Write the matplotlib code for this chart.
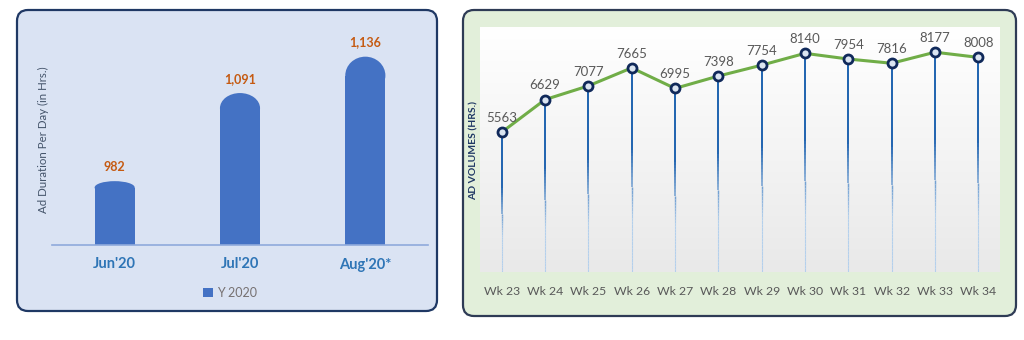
import numpy as np
import matplotlib
matplotlib.use("Agg")
import matplotlib.pyplot as plt
from matplotlib.patches import FancyBboxPatch, Ellipse
from matplotlib.collections import LineCollection
from matplotlib.colors import LinearSegmentedColormap, to_rgb

plt.rcParams['font.family'] = ['Lato', 'DejaVu Sans']

# ---- data ----
months = ["Jun'20", "Jul'20", "Aug'20*"]
month_values = [982, 1091, 1136]
month_labels = ["982", "1,091", "1,136"]
series_name = "Y 2020"

weeks = ["Wk 23", "Wk 24", "Wk 25", "Wk 26", "Wk 27", "Wk 28",
         "Wk 29", "Wk 30", "Wk 31", "Wk 32", "Wk 33", "Wk 34"]
week_values = [5563, 6629, 7077, 7665, 6995, 7398, 7754, 8140, 7954, 7816, 8177, 8008]

W, H = 1024, 340
fig = plt.figure(figsize=(W / 100, H / 100), dpi=100)
fig.patch.set_facecolor("white")


def fx(px):
    return px / W


def fy(py):
    return 1 - py / H


def add_panel(x0, y0, x1, y1, face, edge):
    p = FancyBboxPatch((fx(x0), fy(y1)), fx(x1 - x0), (y1 - y0) / H,
                       boxstyle="round,pad=0,rounding_size=%f" % (11 / W),
                       transform=fig.transFigure, facecolor=face, edgecolor=edge,
                       linewidth=1.6, zorder=-5, mutation_aspect=W / H)
    fig.patches.append(p)


add_panel(17, 10, 437, 311, "#dae3f3", "#1f3864")
add_panel(463, 10, 1016, 316, "#e2efda", "#2e3b55")

# ---- left chart ----
axL = fig.add_axes([fx(52), fy(245), fx(428 - 52), (245 - 30) / H])
axL.set_facecolor("none")
base = 903
bar_color = "#4472c4"
xL = np.arange(len(months))
bw = 0.32
vals = np.array(month_values, dtype=float)
caps = 0.1 * (vals - base)
bars = axL.bar(xL, vals - caps - base, bottom=base, width=bw, color=bar_color,
               label=series_name, zorder=2)
for xi, v, c in zip(xL, vals, caps):
    axL.add_patch(Ellipse((xi, v - c), bw, 2 * c, facecolor=bar_color,
                          edgecolor="none", zorder=2))
for xi, v, lab in zip(xL, vals, month_labels):
    axL.annotate(lab, (xi, v), xytext=(0, 6), textcoords="offset points",
                 ha="center", va="bottom", color="#c55a11", fontsize=9,
                 fontweight="bold")
axL.set_xlim(-0.5, 2.5)
axL.set_ylim(base, 1169)
axL.set_xticks(xL)
axL.set_xticklabels(months, fontsize=10.5, fontweight="bold", color="#2e75b6")
axL.tick_params(axis="x", length=0, pad=9)
axL.set_yticks([])
for s in ["top", "right", "left"]:
    axL.spines[s].set_visible(False)
axL.spines["bottom"].set_color("#8faadc")
axL.spines["bottom"].set_linewidth(1.2)
fig.text(fx(43), fy(140), "Ad Duration Per Day (in Hrs.)", rotation=90,
         ha="center", va="center", fontsize=8.3, color="#44546a")
fig.legend(handles=[bars], labels=[series_name], loc="center",
           bbox_to_anchor=(fx(230), fy(293)), frameon=False, fontsize=9,
           handlelength=0.75, handleheight=0.75, handletextpad=0.3,
           labelcolor="#767171")

# ---- right chart ----
axR = fig.add_axes([fx(480), fy(272), fx(1000 - 480), (272 - 27) / H])
ymin, ymax = 1000, 9000
axR.set_xlim(-0.5, len(weeks) - 0.5)
axR.set_ylim(ymin, ymax)
grad = np.linspace(0, 1, 256)[:, None]
cmap_bg = LinearSegmentedColormap.from_list("bg", ["#e9e9e9", "#ffffff"])
axR.imshow(grad, extent=[-0.5, len(weeks) - 0.5, ymin, ymax], origin="lower",
           aspect="auto", cmap=cmap_bg, zorder=0)

xR = np.arange(len(weeks))
top_c = np.array(to_rgb("#1f63b0"))
bot_c = np.array(to_rgb("#b4d0ec"))
segs, cols, lws = [], [], []
n = 60
for xi, v in zip(xR, week_values):
    ys = np.linspace(ymin, v, n + 1)
    for k in range(n):
        t = k / n  # 0 bottom -> 1 top
        w = np.clip((t - 0.25) / 0.35, 0, 1)
        segs.append([(xi, ys[k]), (xi, ys[k + 1])])
        cols.append(tuple(bot_c * (1 - w) + top_c * w))
        lws.append(0.8 + 0.6 * w)
axR.add_collection(LineCollection(segs, colors=cols, linewidths=lws, zorder=2))

axR.plot(xR, week_values, color="#70ad47", lw=2.2, zorder=3,
         marker="o", markersize=6.5, markerfacecolor="#dbe5f1",
         markeredgecolor="#10295a", markeredgewidth=2)
for xi, v in zip(xR, week_values):
    axR.annotate(str(v), (xi, v), xytext=(0, 6), textcoords="offset points",
                 ha="center", va="bottom", color="#595959", fontsize=9.5)
axR.set_xticks(xR)
axR.set_xticklabels(weeks, fontsize=8.8, color="#595959")
axR.tick_params(axis="x", length=0, pad=10)
axR.set_yticks([])
for s in axR.spines.values():
    s.set_visible(False)
fig.text(fx(474), fy(150), "AD VOLUMES (HRS.)", rotation=90, ha="center",
         va="center", fontsize=7.5, fontweight="bold", color="#1f3864")

fig.savefig("out.png", dpi=100, facecolor="white")
